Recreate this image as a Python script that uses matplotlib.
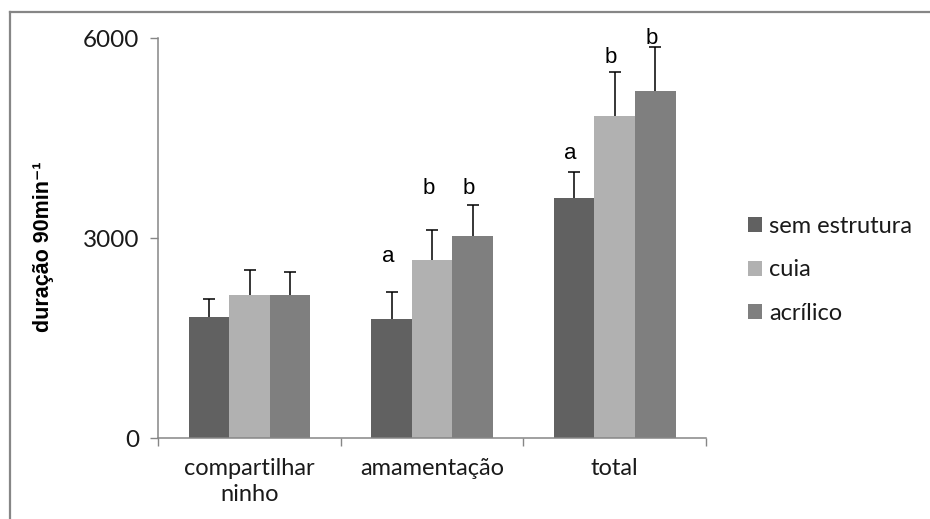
import matplotlib
matplotlib.use("Agg")
import matplotlib.pyplot as plt
import numpy as np
from matplotlib.lines import Line2D
from matplotlib.patches import Patch

categories = ["compartilhar\nninho", "amamentação", "total"]
series_names = ["sem estrutura", "cuia", "acrílico"]
sem_estrutura = [1820, 1785, 3610]
sem_estrutura_err = [270, 405, 385]
cuia = [2145, 2680, 4830]
cuia_err = [375, 440, 670]
acrilico = [2145, 3040, 5205]
acrilico_err = [355, 460, 670]
letters_sem = ["", "a", "a"]
letters_cuia = ["", "b", "b"]
letters_acr = ["", "b", "b"]
letter_y_sem = [0, 2725, 4265]
letter_y_cuia = [0, 3740, 5705]
letter_y_acr = [0, 3740, 5990]
yticks = [0, 3000, 6000]

colors = ["#616161", "#b1b1b1", "#7f7f7f"]
text_color = "#1a1a1a"

fig = plt.figure(figsize=(9.30, 5.19), dpi=100)
ax = fig.add_axes([158.3 / 930, 80.7 / 519, (706 - 158.3) / 930, 400 / 519])

x = np.arange(len(categories))
w = 0.222
values = [sem_estrutura, cuia, acrilico]
errs = [sem_estrutura_err, cuia_err, acrilico_err]
letters = [letters_sem, letters_cuia, letters_acr]
letter_ys = [letter_y_sem, letter_y_cuia, letter_y_acr]

for i in range(3):
    pos = x + (i - 1) * w
    ax.bar(pos, values[i], width=w, color=colors[i], edgecolor="none", zorder=2)
    eb = ax.errorbar(pos, values[i], yerr=[np.zeros(3), errs[i]], fmt="none",
                     ecolor="black", elinewidth=1.1, capsize=4.2, capthick=1.1, zorder=3)
    caplines = eb[1]
    if len(caplines) >= 2:
        caplines[0].set_visible(False)
    for j in range(3):
        if letters[i][j]:
            ax.text(pos[j] - 0.02, letter_ys[i][j], letters[i][j], ha="center", va="center",
                    fontsize=16, family="Liberation Sans", color="black", zorder=4)

ax.set_xlim(-0.5, 2.5)
ax.set_ylim(0, 6000)
ax.set_yticks(yticks)
ax.set_yticklabels([str(t) for t in yticks], family="Lato", fontsize=17.5, color=text_color)
ax.set_xticks(x)
ax.set_xticklabels(categories, family="Lato", fontsize=17, color=text_color, linespacing=1.3)
ax.set_xticks([-0.5, 0.5, 1.5, 2.5], minor=True)
ax.tick_params(axis="x", which="major", length=0, pad=14)
ax.tick_params(axis="x", which="minor", length=5.5, width=1, color="#868686", direction="out")
ax.tick_params(axis="y", length=5.8, width=1, color="#868686", pad=8)
for s in ["top", "right"]:
    ax.spines[s].set_visible(False)
for s in ["left", "bottom"]:
    ax.spines[s].set_color("#868686")
    ax.spines[s].set_linewidth(1.1)

ax.set_ylabel("duração 90min⁻¹", family=["Liberation Sans", "DejaVu Sans"],
              fontweight="bold", fontsize=15.5, color="black")
ax.yaxis.set_label_coords((54 - 158.3) / 547.7, 0.48)

handles = [Patch(facecolor=c, edgecolor="none") for c in colors]
leg = fig.legend(handles, series_names, loc="center left",
                 bbox_to_anchor=(748 / 930, 1 - 270 / 519), frameon=False,
                 prop={"family": "Lato", "size": 17}, handlelength=0.58, handleheight=0.58,
                 handletextpad=0.3, labelspacing=0.96, borderpad=0, borderaxespad=0)
for t in leg.get_texts():
    t.set_color(text_color)

fig.add_artist(Line2D([10 / 930, 1.0], [1 - 12 / 519, 1 - 12 / 519], transform=fig.transFigure,
                      color="#868686", lw=1.6))
fig.add_artist(Line2D([10 / 930, 10 / 930], [0, 1 - 12 / 519], transform=fig.transFigure,
                      color="#868686", lw=1.6))

fig.savefig("out.png", dpi=100)
